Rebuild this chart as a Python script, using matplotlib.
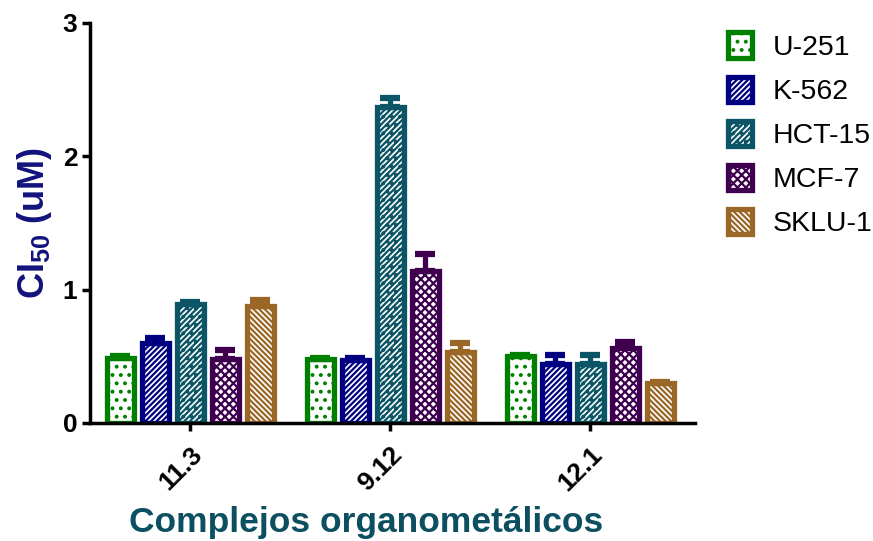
import numpy as np
import matplotlib
matplotlib.use("Agg")
import matplotlib.pyplot as plt

plt.rcParams['font.family'] = ['Liberation Sans', 'DejaVu Sans']
plt.rcParams['mathtext.fontset'] = 'custom'
plt.rcParams['mathtext.rm'] = 'Liberation Sans:bold'
plt.rcParams['mathtext.bf'] = 'Liberation Sans:bold'
plt.rcParams['mathtext.it'] = 'Liberation Sans:bold'
plt.rcParams['hatch.linewidth'] = 1.6

compounds = ["11.3", "9.12", "12.1"]
cell_lines = ["U-251", "K-562", "HCT-15", "MCF-7", "SKLU-1"]

u251 = [0.49, 0.48, 0.50]
k562 = [0.60, 0.47, 0.44]
hct15 = [0.89, 2.37, 0.44]
mcf7 = [0.48, 1.14, 0.56]
sklu1 = [0.88, 0.53, 0.30]

u251_err = [0.01, 0.01, 0.01]
k562_err = [0.04, 0.02, 0.07]
hct15_err = [0.02, 0.07, 0.07]
mcf7_err = [0.07, 0.13, 0.05]
sklu1_err = [0.04, 0.07, 0.01]

means = [u251, k562, hct15, mcf7, sklu1]
errs = [u251_err, k562_err, hct15_err, mcf7_err, sklu1_err]
colors = ["#008000", "#000080", "#0b5566", "#3f0050", "#9a6726"]
hatches = ["..", "//////", "//////..", "xxxx", "\\\\\\\\\\\\"]

fig = plt.figure(figsize=(8.73, 5.41), dpi=100)
ax = fig.add_axes([90 / 873, (541 - 423) / 541, (695 - 90) / 873, 400 / 541])

x = np.arange(len(compounds))
step = 0.175
width = 0.135
for i, (m, e, c, h, name) in enumerate(zip(means, errs, colors, hatches, cell_lines)):
    pos = x + (i - 2) * step
    ax.bar(pos, m, width=width, facecolor="white", edgecolor=c, hatch=h,
           linewidth=3.8, label=name, zorder=2)
    ax.errorbar(pos, m, yerr=[np.zeros(len(m)), e], fmt="none", ecolor=c,
                elinewidth=3.8, capsize=7, capthick=4.5, zorder=3)

ax.set_xlim(-0.5, 2.525)
ax.set_ylim(0, 3)
ax.set_yticks([0, 1, 2, 3])
ax.set_xticks(x)
ax.set_xticklabels(compounds, rotation=45, ha="right", rotation_mode="anchor",
                   fontsize=19, fontweight="bold")
for lab in ax.get_yticklabels():
    lab.set_fontsize(19)
    lab.set_fontweight("bold")

for side in ["top", "right"]:
    ax.spines[side].set_visible(False)
for side in ["left", "bottom"]:
    ax.spines[side].set_linewidth(2.5)
ax.tick_params(axis="both", direction="out", width=2.5, length=6)
ax.tick_params(axis="x", pad=8)
ax.tick_params(axis="y", pad=3)

ax.set_ylabel(r"CI$_{50}$ (uM)", fontsize=26, fontweight="bold",
              color="#12127c", labelpad=6)
ax.set_xlabel("Complejos organometálicos", fontsize=25.5, fontweight="bold",
              color="#0b4f60")
ax.xaxis.set_label_coords(0.456, -0.207)

leg = ax.legend(loc="upper left", bbox_to_anchor=(1.035, 1.005), frameon=False,
                fontsize=20.5, handlelength=0.85, handleheight=1.0,
                labelspacing=0.55, handletextpad=0.75, borderaxespad=0)

fig.savefig("out.png", dpi=100)
